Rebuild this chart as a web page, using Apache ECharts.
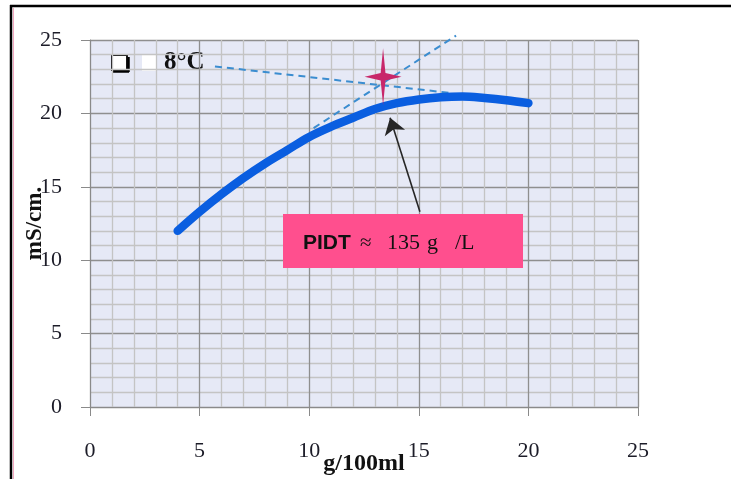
<!DOCTYPE html>
<html>
<head>
<meta charset="utf-8">
<script src="https://cdn.jsdelivr.net/npm/echarts@6/dist/echarts.min.js"></script>
<style>
html,body{margin:0;padding:0;background:#fff;}
#c{width:731px;height:479px;}
</style>
</head>
<body>
<div id="c"></div>
<script>
// ---- data ----
const concentration = [4,5,6,7,8,9,10,11,12,13,14,15,16,17,18,19,20];
const conductivity = [12.0,13.3,14.5,15.6,16.6,17.5,18.4,19.1,19.7,20.3,20.7,20.95,21.1,21.15,21.05,20.9,20.7];
const tangentA = [[5.7,23.2],[16.4,21.4]];
const tangentB = [[10.2,19.0],[16.7,25.3]];
const pidtPoint = [[13.37,22.5]];
const arrowCoords = [[15.05,13.3],[13.69,19.7]];
const xTicks = [0,5,10,15,20,25];
const yTicks = [0,5,10,15,20,25];
const legendLabel = '8°C';
const annotation = {prefix:'PIDT', sym:'≈', num:'135', unit:'g', per:'/L'};

const serif = '"Liberation Serif", "DejaVu Serif", serif';
const sans = '"Liberation Sans", Arial, sans-serif';

const chart = echarts.init(document.getElementById('c'), null, {renderer:'canvas'});
const axisCommon = {
  min: 0, max: 25, interval: 5,
  axisLine: {show: true, onZero: false, lineStyle: {color: '#8a8a8a', width: 1}},
  axisTick: {show: true, length: 9, lineStyle: {color: '#8a8a8a', width: 1}},
  splitLine: {show: true, lineStyle: {color: '#8f8f8f', width: 1.3}},
  minorTick: {show: false, splitNumber: 5},
  minorSplitLine: {show: true, lineStyle: {color: '#c4c4c4', width: 1.3}},
  axisLabel: {color: '#1c1c28', fontFamily: serif, fontSize: 22}
};
const starPath = 'path://M0,-1 L0.13,-0.13 L1,0 L0.13,0.13 L0,1 L-0.13,0.13 L-1,0 L-0.13,-0.13 Z';

chart.setOption({
  animation: false,
  backgroundColor: '#ffffff',
  grid: {left: 90, right: 93, top: 40, bottom: 72, show: true, backgroundColor: '#e6e9f6', borderWidth: 0,
         containLabel: false, outerBoundsMode: 'none'},
  xAxis: Object.assign({}, axisCommon, {
    type: 'value',
    name: 'g/100ml', nameLocation: 'middle', nameGap: 45, nameMoveOverlap: false,
    nameTextStyle: {fontFamily: serif, fontWeight: 'bold', fontSize: 24, color: '#111'},
    axisLabel: Object.assign({}, axisCommon.axisLabel, {margin: 33, formatter: v => xTicks.includes(v) ? String(v) : ''})
  }),
  yAxis: Object.assign({}, axisCommon, {
    type: 'value',
    name: 'mS/cm.', nameLocation: 'middle', nameGap: 43, nameRotate: 90, nameMoveOverlap: false,
    nameTextStyle: {fontFamily: serif, fontWeight: 'bold', fontSize: 23, color: '#111'},
    axisLabel: Object.assign({}, axisCommon.axisLabel, {margin: 28, formatter: v => yTicks.includes(v) ? String(v) : ''})
  }),
  series: [
    {
      type: 'line', data: tangentA, symbol: 'none', silent: true,
      lineStyle: {color: '#3b8dd0', width: 2, type: [7,5]}
    },
    {
      type: 'line', data: tangentB, symbol: 'none', silent: true, clip: false,
      lineStyle: {color: '#3b8dd0', width: 2, type: [7,5]}
    },
    {
      type: 'line', data: concentration.map((x,i) => [x, conductivity[i]]),
      symbol: 'none', smooth: 0.35,
      lineStyle: {color: '#0a5ee0', width: 8.5, cap: 'round', join: 'round'}
    },
    {
      type: 'scatter', data: pidtPoint, symbol: starPath, symbolSize: [37,57],
      itemStyle: {color: '#c8286a', opacity: 1}, z: 5
    },
    {
      type: 'lines', coordinateSystem: 'cartesian2d', polyline: false,
      data: [{coords: arrowCoords}],
      symbol: ['none','arrow'], symbolSize: 16,
      lineStyle: {color: '#262626', width: 1.6, opacity: 1, curveness: 0},
      z: 6
    }
  ],
  graphic: [
    // outer frame lines
    {type:'line', shape:{x1:10, y1:6, x2:731, y2:6}, style:{stroke:'#000', lineWidth:2.5}},
    {type:'line', shape:{x1:11, y1:5, x2:11, y2:479}, style:{stroke:'#000', lineWidth:2.5}},
    {type:'line', shape:{x1:13.5, y1:8, x2:13.5, y2:479}, style:{stroke:'#f3a6bf', lineWidth:1}},
    // legend
    {type:'rect', shape:{x:112, y:55, width:15, height:15}, style:{fill:'#fff', stroke:'#000', lineWidth:1.8}},
    {type:'line', shape:{x1:113, y1:71.5, x2:129, y2:71.5}, style:{stroke:'#000', lineWidth:2.5}},
    {type:'line', shape:{x1:128.5, y1:57, x2:128.5, y2:72}, style:{stroke:'#000', lineWidth:2.5}},
    {type:'rect', shape:{x:142, y:55, width:15, height:16}, style:{fill:'#fff'}},
    {type:'text', x:164, y:63, style:{text: legendLabel, font:'bold 25px ' + serif, fill:'#111', textVerticalAlign:'middle'}},
    // annotation box
    {type:'rect', shape:{x:283, y:214, width:240, height:54}, style:{fill:'#ff4f8e'}, z:10},
    {type:'text', x:303, y:243, z:11, style:{text: annotation.prefix, font:'bold 21px ' + sans, fill:'#111', textVerticalAlign:'middle'}},
    {type:'text', x:360, y:243, z:11, style:{text: annotation.sym, font:'21px ' + serif, fill:'#111', textVerticalAlign:'middle'}},
    {type:'text', x:387, y:243, z:11, style:{text: annotation.num, font:'22px ' + serif, fill:'#111', textVerticalAlign:'middle'}},
    {type:'text', x:427, y:243, z:11, style:{text: annotation.unit, font:'22px ' + serif, fill:'#111', textVerticalAlign:'middle'}},
    {type:'text', x:455, y:243, z:11, style:{text: annotation.per, font:'22px ' + serif, fill:'#111', textVerticalAlign:'middle'}}
  ]
});
</script>
</body>
</html>
